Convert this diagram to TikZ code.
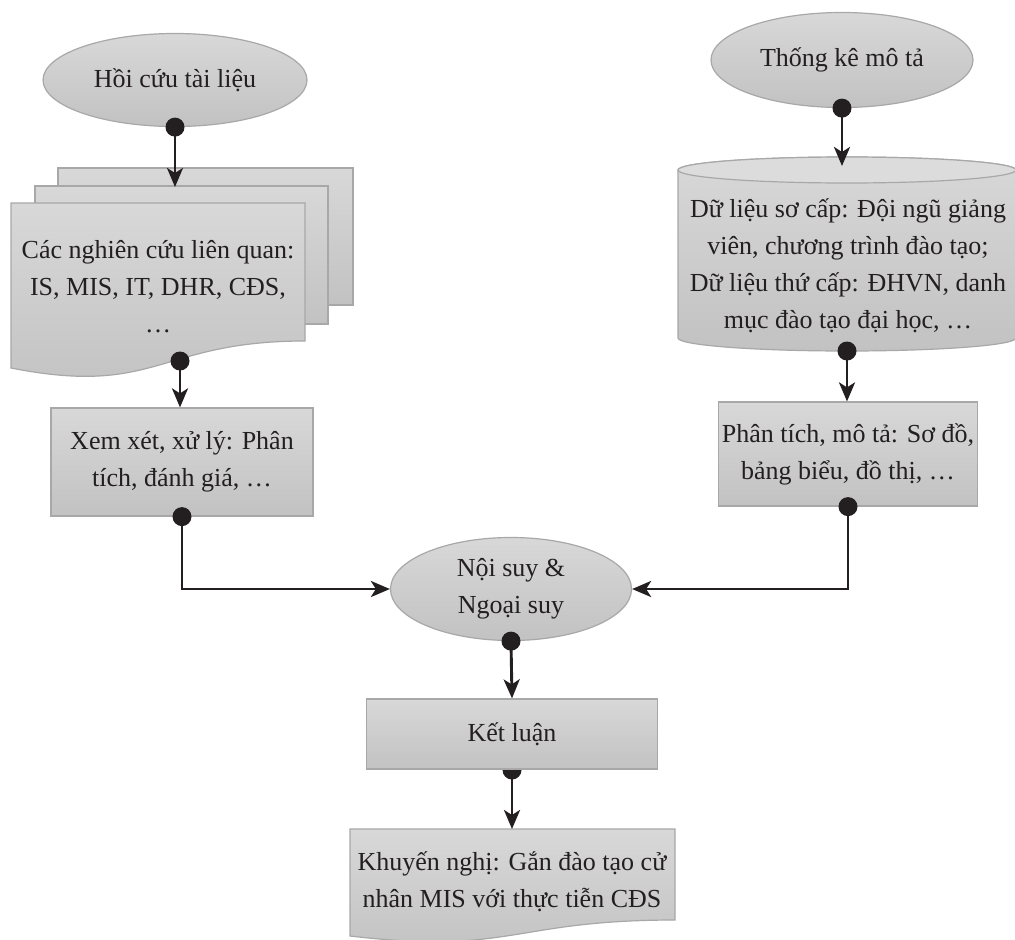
\documentclass[tikz,border=0pt]{standalone}
\usepackage{fontspec}
\setmainfont{Liberation Serif}
\usetikzlibrary{shapes.geometric,arrows.meta}
\definecolor{fillTop}{HTML}{D8D8D8}
\definecolor{fillBot}{HTML}{C2C2C2}
\definecolor{capFill}{HTML}{DCDCDC}
\definecolor{edgeGray}{HTML}{A8A8A8}
\definecolor{inkCol}{HTML}{231F20}
\newcommand\txt{\fontsize{26}{37}\selectfont}
\tikzset{
  shaded/.style={top color=fillTop, bottom color=fillBot, draw=edgeGray, line width=1.2pt},
  ellnode/.style={ellipse, shaded, inner sep=0pt, align=center, font=\txt, text=inkCol},
  boxnode/.style={rectangle, shaded, inner sep=0pt, align=center, font=\txt, text=inkCol},
  label/.style={inner sep=0pt, align=center, font=\txt, text=inkCol},
  link/.style={line width=2.9pt, draw=inkCol, -{Stealth[length=19pt,width=16pt,inset=5pt]}},
  dotmark/.style={circle, fill=inkCol, inner sep=0pt, minimum width=18pt, minimum height=19pt}
}
\begin{document}
\begin{tikzpicture}[x=1pt,y=-1pt]
\useasboundingbox[fill=white] (0,0) rectangle (1015,940);

% ---- left branch: literature review ----
\node[ellnode, minimum width=264pt, minimum height=93pt] (hoi) at (175,80) {Hồi cứu tài liệu};

% stacked documents
\path[shaded] (58,168) rectangle (353,305);
\path[shaded] (35,186) rectangle (328,324);
\path[shaded] (11,203) -- (305,203) -- (305,341)
  .. controls (158,341) and (158,397) .. (11,368) -- cycle;
\node[label] (multi) at (158,287) {Các nghiên cứu liên quan:\\IS, MIS, IT, DHR, CĐS,\\…};
\coordinate (midTop) at (175,187);
\coordinate (multiBot) at (180,361);

\node[boxnode, minimum width=262pt, minimum height=108pt] (xem) at (182,462)
  {Xem xét, xử lý: Phân\\tích, đánh giá, …};

% ---- right branch: descriptive statistics ----
\node[ellnode, minimum width=262pt, minimum height=95pt] (thong) at (842,60) {Thống kê mô tả};

% cylinder (data store)
\path[shaded] (678,170) -- (678,338)
  arc[start angle=180, end angle=360, x radius=169pt, y radius=13pt]
  -- (1016,170)
  arc[start angle=0, end angle=180, x radius=169pt, y radius=13pt] -- cycle;
\path[fill=capFill, draw=edgeGray, line width=1.2pt] (847,170) ellipse[x radius=169pt, y radius=13pt];
\node[label] (cyl) at (848,266)
  {Dữ liệu sơ cấp: Đội ngũ giảng\\viên, chương trình đào tạo;\\Dữ liệu thứ cấp: ĐHVN, danh\\mục đào tạo đại học, …};
\coordinate (cylTop) at (842,166);
\coordinate (cylBot) at (847,351);

\node[boxnode, minimum width=259pt, minimum height=104pt] (phan) at (848,454)
  {Phân tích, mô tả: Sơ đồ,\\bảng biểu, đồ thị, …};

% ---- merge and conclusion ----
\node[ellnode, minimum width=241pt, minimum height=103pt] (noi) at (511,589) {Nội suy \&\\Ngoại suy};

\node[dotmark] (ketDot) at (512,770) {};
\node[boxnode, minimum width=291pt, minimum height=70pt] (ket) at (512,734) {Kết luận};

\path[shaded] (350,829) -- (675,829) -- (675,920)
  .. controls (512,920) and (512,955) .. (350,936) -- cycle;
\node[label] (khuyen) at (512,882) {Khuyến nghị: Gắn đào tạo cử\\nhân MIS với thực tiễn CĐS};
\coordinate (khuyenTop) at (512,829);

% ---- connectors ----
\draw[link] (hoi.south) -- (midTop);
\draw[link] (multiBot) -- (multiBot |- xem.north);
\draw[link] (xem.south) |- (noi.west);
\draw[link] (thong.south) -- (cylTop);
\draw[link] (cylBot) -- (cylBot |- phan.north);
\draw[link] (phan.south) |- (noi.east);
\draw[link] (noi.south) -- (ket.north);
\draw[link] (ketDot.center) -- (khuyenTop);

% connection dots
\node[dotmark] at (hoi.south) {};
\node[dotmark] at (multiBot) {};
\node[dotmark] at (xem.south) {};
\node[dotmark] at (thong.south) {};
\node[dotmark] at (cylBot) {};
\node[dotmark] at (phan.south) {};
\node[dotmark] at (noi.south) {};
\end{tikzpicture}
\end{document}
